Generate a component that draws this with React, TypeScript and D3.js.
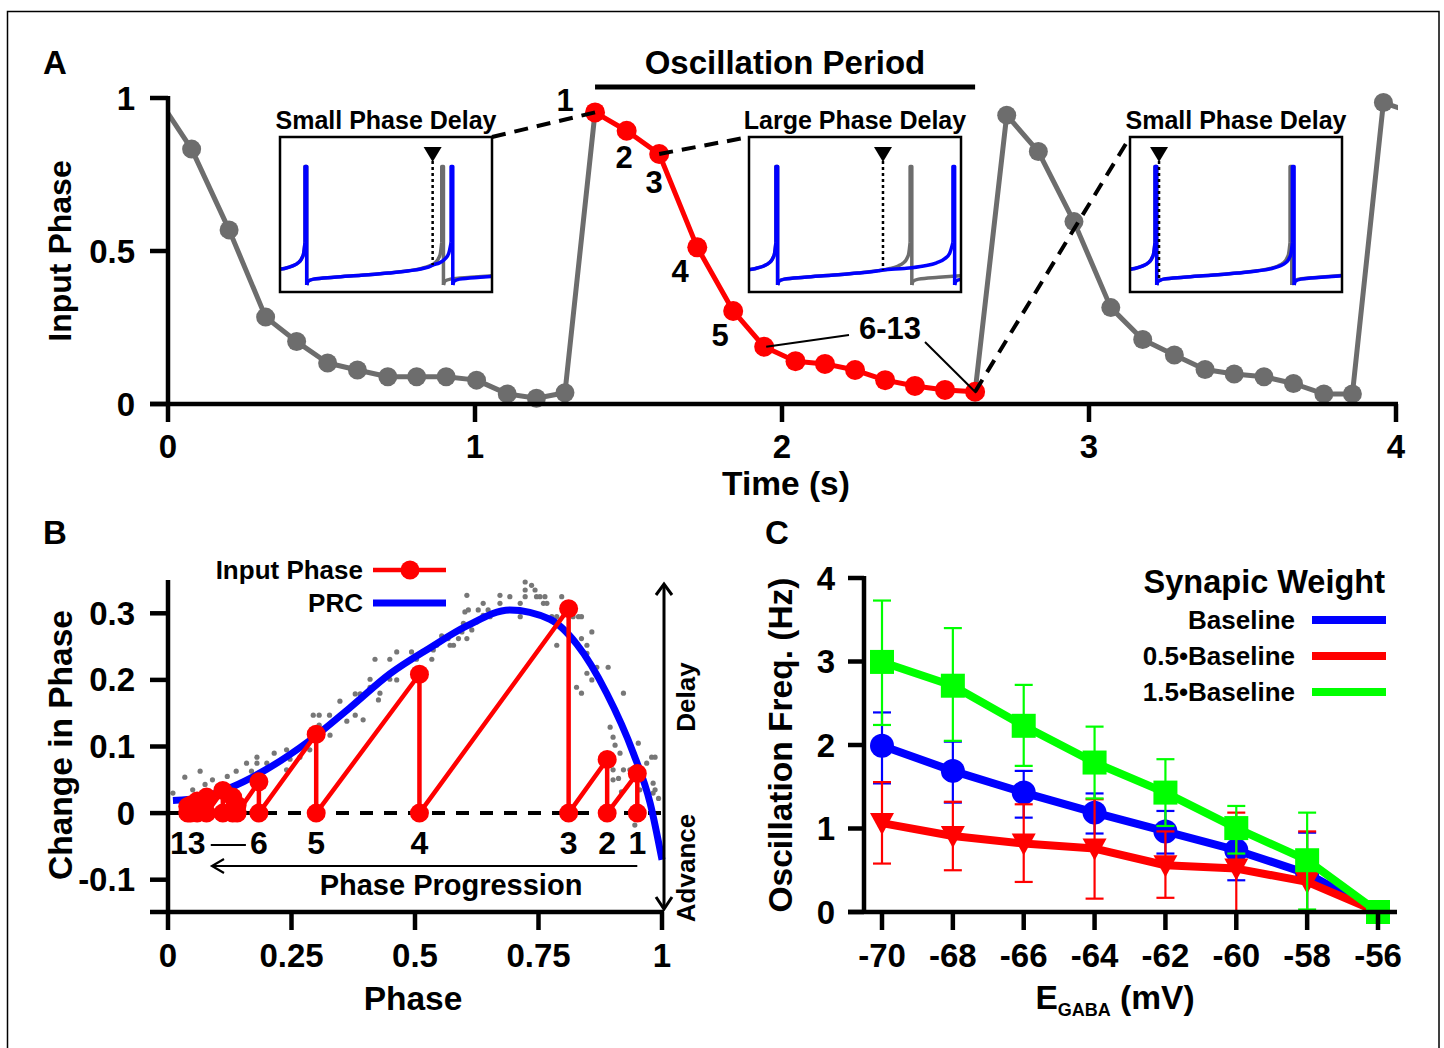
import React from "react";
import * as d3 from "d3";

// ---------------- Panel A data ----------------
const cycle1Time = [0, 0.077, 0.199, 0.318, 0.419, 0.52, 0.617, 0.716, 0.81, 0.906, 1.005, 1.105, 1.2, 1.293];
const cycle1Phase = [0.95, 0.833, 0.569, 0.284, 0.204, 0.134, 0.111, 0.089, 0.089, 0.089, 0.078, 0.033, 0.019, 0.037];
const inputTime = [1.391, 1.494, 1.6, 1.724, 1.841, 1.942, 2.044, 2.14, 2.238, 2.336, 2.433, 2.531, 2.629];
const inputPhase = [0.953, 0.893, 0.817, 0.512, 0.304, 0.187, 0.14, 0.131, 0.111, 0.078, 0.059, 0.046, 0.04];
const cycle3Time = [2.732, 2.835, 2.951, 3.071, 3.175, 3.278, 3.378, 3.473, 3.57, 3.666, 3.765, 3.858, 3.959, 4.06];
const cycle3Phase = [0.944, 0.825, 0.596, 0.315, 0.211, 0.16, 0.113, 0.098, 0.089, 0.067, 0.033, 0.033, 0.985, 0.95];
const timeTicks = [0, 1, 2, 3, 4];
const inputPhaseTicks = [0, 0.5, 1];
const inputPhaseTickLabels = ["0", "0.5", "1"];
const pointLabels = ["1", "2", "3", "4", "5"];

// inset traces (time & voltage normalised to the inset box)
const insetTitles = ["Small Phase Delay", "Large Phase Delay", "Small Phase Delay"];
const insetInput = [0.72, 0.632, 0.137];
const insetGraySpikes = [[0.118, 0.763], [0.127, 0.76], [0.118, 0.755]];
const insetBlueSpikes = [[0.118, 0.807], [0.127, 0.962], [0.118, 0.766]];
const insetPeriod = [0.645, 0.633, 0.637];
const rampF = [0, 0.01, 0.05, 0.2, 0.4, 0.6, 0.75, 0.85, 0.91, 0.95, 0.975, 0.99, 1];
const rampV = [0.045, 0.07, 0.083, 0.095, 0.108, 0.122, 0.137, 0.152, 0.168, 0.188, 0.215, 0.25, 0.32];
const spikePeak = 0.81;

// ---------------- Panel B data ----------------
const prcPhase = [0.01, 0.07, 0.132, 0.2, 0.287, 0.368, 0.449, 0.53, 0.605, 0.692, 0.773, 0.827, 0.888, 0.942, 0.976, 1.0];
const prcDelta = [0.019, 0.024, 0.04, 0.066, 0.109, 0.158, 0.209, 0.248, 0.281, 0.305, 0.291, 0.254, 0.18, 0.09, 0.015, -0.07];
const scatterPhase = [0.01, 0.02, 0.05, 0.09, 0.1, 0.12, 0.034, 0.065, 0.075, 0.138, 0.159, 0.18, 0.18, 0.2, 0.215, 0.24, 0.24, 0.169,
  0.294, 0.306, 0.327, 0.306, 0.328, 0.287, 0.267, 0.247, 0.348, 0.362, 0.379, 0.379, 0.389, 0.395, 0.409, 0.409, 0.426, 0.419,
  0.429, 0.449, 0.463, 0.463, 0.449, 0.503, 0.493, 0.537, 0.534, 0.544, 0.554, 0.571, 0.578, 0.567, 0.588, 0.595, 0.605, 0.601,
  0.608, 0.598, 0.605, 0.615, 0.625, 0.628, 0.638, 0.638, 0.648, 0.652, 0.672, 0.672, 0.692, 0.713, 0.713, 0.723, 0.723, 0.723,
  0.736, 0.743, 0.746, 0.753, 0.763, 0.76, 0.767, 0.777, 0.787, 0.787, 0.797, 0.807, 0.82, 0.831, 0.837, 0.837, 0.837, 0.848,
  0.858, 0.848, 0.851, 0.868, 0.891, 0.848, 0.858, 0.827, 0.837, 0.922, 0.895, 0.901, 0.905, 0.915, 0.952, 0.922, 0.935, 0.912,
  0.901, 0.901, 0.918, 0.979, 0.986, 0.969, 0.982, 0.986, 0.993, 0.945, 0.955, 0.982];
const scatterDelta = [0.03, 0.02, 0.035, 0.05, 0.04, 0.055, 0.054, 0.063, 0.043, 0.063, 0.075, 0.084, 0.075, 0.075, 0.09, 0.095, 0.065, 0.063,
  0.147, 0.147, 0.147, 0.132, 0.117, 0.095, 0.084, 0.081, 0.168, 0.138, 0.147, 0.179, 0.179, 0.14, 0.189, 0.201, 0.17, 0.231,
  0.18, 0.231, 0.242, 0.2, 0.201, 0.231, 0.242, 0.245, 0.231, 0.252, 0.266, 0.252, 0.252, 0.262, 0.262, 0.272, 0.327, 0.302,
  0.305, 0.285, 0.262, 0.275, 0.287, 0.305, 0.315, 0.297, 0.305, 0.295, 0.327, 0.315, 0.325, 0.315, 0.295, 0.347, 0.335, 0.325,
  0.342, 0.335, 0.325, 0.325, 0.325, 0.315, 0.315, 0.295, 0.295, 0.252, 0.325, 0.307, 0.295, 0.295, 0.295, 0.262, 0.245, 0.252,
  0.272, 0.24, 0.23, 0.219, 0.219, 0.21, 0.2, 0.189, 0.18, 0.18, 0.129, 0.114, 0.102, 0.09, 0.105, 0.065, 0.065, 0.052,
  0.065, 0.05, 0.032, 0.084, 0.084, 0.075, 0.045, 0.035, 0.022, -0.018, 0.035, 0.03];
const inputPhaseB = [0.95, 0.889, 0.811, 0.509, 0.3, 0.184, 0.14, 0.131, 0.111, 0.078, 0.059, 0.046, 0.04];
const deltaB = [0.0595, 0.0805, 0.307, 0.2085, 0.1185, 0.047, 0.012, 0.024, 0.034, 0.024, 0.018, 0.012, 0.01];
const phaseTicks = [0, 0.25, 0.5, 0.75, 1];
const phaseTickLabels = ["0", "0.25", "0.5", "0.75", "1"];
const deltaTicks = [-0.1, 0, 0.1, 0.2, 0.3];
const deltaTickLabels = ["-0.1", "0", "0.1", "0.2", "0.3"];
const labelledInputs = [0, 1, 2, 3, 4, 5, 12];

// ---------------- Panel C data ----------------
const eGaba = [-70, -68, -66, -64, -62, -60, -58, -56];
const freqBaseline = [1.99, 1.69, 1.43, 1.19, 0.965, 0.74, 0.46, 0];
const freqBaselineHi = [2.39, 2.04, 1.69, 1.42, 1.21, 1.1, 0.95, 0];
const freqBaselineLo = [1.54, 1.31, 1.13, 0.94, 0.7, 0.38, 0.0, 0];
const freqHalf = [1.065, 0.91, 0.82, 0.76, 0.56, 0.52, 0.36, 0];
const freqHalfHi = [1.556, 1.32, 1.29, 1.35, 0.965, 1.19, 0.965, 0];
const freqHalfLo = [0.58, 0.5, 0.36, 0.16, 0.17, 0.0, 0.0, 0];
const freqOnePointFive = [2.995, 2.71, 2.23, 1.79, 1.43, 1.005, 0.62, 0];
const freqOnePointFiveHi = [3.73, 3.4, 2.72, 2.22, 1.83, 1.27, 1.19, 0];
const freqOnePointFiveLo = [2.24, 2.05, 1.75, 1.36, 1.03, 0.7, 0.03, 0];
const freqTicks = [0, 1, 2, 3, 4];
const seriesNames = ["Baseline", "0.5\u2022Baseline", "1.5\u2022Baseline"];

const FONT = "'Liberation Sans', Arial, Helvetica, sans-serif";
const GRAY = "#6d6d6d";
const RED = "#ff0000";
const BLUE = "#0000ff";
const GREEN = "#00ff00";
const TICK_FS = 33;
const TITLE_FS = 33.5;

type Pt = [number, number];

function buildTrace(spikes: number[], input: number | null, P: number) {
  const vOf = d3.scaleLinear(rampF, rampV).clamp(true);
  const segs: { pts: Pt[]; smooth: boolean }[] = [];
  const w = 0.008;
  const s1 = spikes[0];
  const f0 = 1 - s1 / P;
  const pre: Pt[] = [[0, vOf(f0)]];
  rampF.forEach((f, i) => { if (f > f0) pre.push([s1 - (1 - f) * P, rampV[i]]); });
  segs.push({ pts: pre, smooth: true });
  let inputV = 0;
  spikes.forEach((s, k) => {
    segs.push({ pts: [[s, rampV[rampV.length - 1]], [s, spikePeak], [s + w, spikePeak], [s + w, rampV[0]]], smooth: false });
    const base = s + w;
    const next = spikes[k + 1];
    const seg: Pt[] = [];
    if (next !== undefined) {
      if (input !== null && input > base && input < next) {
        const fin = (input - base) / P;
        inputV = vOf(fin);
        rampF.forEach((f, i) => { if (f < fin) seg.push([base + f * P, rampV[i]]); });
        seg.push([input, vOf(fin)]);
        rampF.forEach((f, i) => { if (f > fin) seg.push([input + ((f - fin) / (1 - fin)) * (next - input), rampV[i]]); });
      } else {
        rampF.forEach((f, i) => seg.push([base + f * (next - base), rampV[i]]));
      }
    } else {
      rampF.forEach((f, i) => { const x = base + f * P; if (x <= 1) seg.push([x, rampV[i]]); });
      seg.push([1, vOf((1 - base) / P)]);
    }
    segs.push({ pts: seg, smooth: true });
  });
  return { segs, inputV };
}

function Inset({ idx, left, top }: { idx: number; left: number; top: number }) {
  const W = 212, H = 155;
  const xs = d3.scaleLinear([0, 1], [0, W]);
  const ys = d3.scaleLinear([0, 1], [H, 0]);
  const smooth = d3.line<Pt>().x(d => xs(d[0])).y(d => ys(d[1])).curve(d3.curveMonotoneX);
  const straight = d3.line<Pt>().x(d => xs(d[0])).y(d => ys(d[1]));
  const gray = buildTrace(insetGraySpikes[idx], null, insetPeriod[idx]);
  const blue = buildTrace(insetBlueSpikes[idx], insetInput[idx], insetPeriod[idx]);
  const ix = xs(insetInput[idx]);
  const clipId = `inset-clip-${idx}`;
  return (
    <g transform={`translate(${left},${top})`}>
      <text x={W / 2} y={-8} textAnchor="middle" fontSize={25} fontWeight="bold">{insetTitles[idx]}</text>
      <rect x={0} y={0} width={W} height={H} fill="#fff" />
      <clipPath id={clipId}><rect x={1} y={1} width={W - 2} height={H - 2} /></clipPath>
      <g clipPath={`url(#${clipId})`} fill="none" strokeLinejoin="round">
        {gray.segs.map((s, i) => (
          <path key={"g" + i} d={(s.smooth ? smooth : straight)(s.pts) || ""} stroke={GRAY} strokeWidth={3.5} />
        ))}
        {blue.segs.map((s, i) => (
          <path key={"b" + i} d={(s.smooth ? smooth : straight)(s.pts) || ""} stroke={BLUE} strokeWidth={3.5} />
        ))}
      </g>
      <line x1={ix} x2={ix} y1={24} y2={ys(blue.inputV)} stroke="#000" strokeWidth={2.5} strokeDasharray="3 3" />
      <path d={`M${ix - 9},${10} L${ix + 9},${10} L${ix},${25} Z`} fill="#000" />
      <rect x={0} y={0} width={W} height={H} fill="none" stroke="#000" strokeWidth={2.5} />
    </g>
  );
}

export default function App() {
  // ---------- Panel A ----------
  const xA = d3.scaleLinear([0, 4], [168, 1396]);
  const yA = d3.scaleLinear([0, 1], [404, 98]);
  const lineA = d3.line<Pt>().x(d => xA(d[0])).y(d => yA(d[1]));
  const gray1: Pt[] = cycle1Time.map((t, i) => [t, cycle1Phase[i]] as Pt).concat([[inputTime[0], inputPhase[0]]]);
  const redPts: Pt[] = inputTime.map((t, i) => [t, inputPhase[i]]);
  const gray3: Pt[] = ([[inputTime[12], inputPhase[12]]] as Pt[]).concat(cycle3Time.map((t, i) => [t, cycle3Phase[i]] as Pt));
  const insetLefts = [280, 749, 1130];
  const insetTop = 137;
  const p = (i: number): Pt => [xA(inputTime[i]), yA(inputPhase[i])];

  // ---------- Panel B ----------
  const xB = d3.scaleLinear([0, 1], [168, 662]);
  const yB = d3.scaleLinear([-0.15, 0.35], [913, 580]);
  const prcLine = d3.line<number>().x((_, i) => xB(prcPhase[i])).y((_, i) => yB(prcDelta[i])).curve(d3.curveMonotoneX);
  const cobweb: Pt[] = [];
  inputPhaseB.forEach((ph, i) => { cobweb.push([ph, 0]); cobweb.push([ph, deltaB[i]]); });
  const lineB = d3.line<Pt>().x(d => xB(d[0])).y(d => yB(d[1]));

  // ---------- Panel C ----------
  const xC = d3.scaleLinear([-70, -56], [882, 1378]);
  const yC = d3.scaleLinear([0, 4], [912, 578]);
  const series = [
    { name: seriesNames[0], color: BLUE, v: freqBaseline, hi: freqBaselineHi, lo: freqBaselineLo, shape: "circle" },
    { name: seriesNames[1], color: RED, v: freqHalf, hi: freqHalfHi, lo: freqHalfLo, shape: "tri" },
    { name: seriesNames[2], color: GREEN, v: freqOnePointFive, hi: freqOnePointFiveHi, lo: freqOnePointFiveLo, shape: "square" },
  ];
  const lineC = d3.line<number>().x((_, i) => xC(eGaba[i])).y(d => yC(d));

  return (
    <svg width={1444} height={1048} style={{ position: "absolute", left: 0, top: 0, background: "#fff" }} fontFamily={FONT}>
      <rect x={0} y={0} width={1444} height={1048} fill="#fff" />
      <rect x={7.5} y={11.5} width={1431.5} height={1100} fill="none" stroke="#000" strokeWidth={1.5} />

      {/* ================= Panel A ================= */}
      <text x={55} y={62} textAnchor="middle" dominantBaseline="central" fontSize={33} fontWeight="bold">A</text>
      <line x1={xA(inputTime[0])} x2={xA(inputTime[12])} y1={87} y2={87} stroke="#000" strokeWidth={5} />
      <text x={785} y={62} textAnchor="middle" dominantBaseline="central" fontSize={33} fontWeight="bold">Oscillation Period</text>

      {insetLefts.map((l, i) => <Inset key={i} idx={i} left={l} top={insetTop} />)}

      <clipPath id="clipA"><rect x={150} y={60} width={1248} height={360} /></clipPath>
      <g clipPath="url(#clipA)" fill="none" strokeLinejoin="round">
        <path d={lineA(gray1) || ""} stroke={GRAY} strokeWidth={5} />
        <path d={lineA(gray3) || ""} stroke={GRAY} strokeWidth={5} />
        {cycle1Time.slice(1).map((t, i) => (
          <circle key={"c1" + i} cx={xA(t)} cy={yA(cycle1Phase[i + 1])} r={9.5} fill={GRAY} />
        ))}
        {cycle3Time.map((t, i) => (t <= 4 ? <circle key={"c3" + i} cx={xA(t)} cy={yA(cycle3Phase[i])} r={9.5} fill={GRAY} /> : null))}
        <path d={lineA(redPts) || ""} stroke={RED} strokeWidth={5} />
        {redPts.map((d, i) => <circle key={"r" + i} cx={xA(d[0])} cy={yA(d[1])} r={10} fill={RED} />)}
      </g>

      {/* connectors */}
      <g stroke="#000" strokeWidth={4} strokeDasharray="14 9" fill="none">
        <line x1={insetLefts[0] + 212} y1={insetTop} x2={p(0)[0]} y2={p(0)[1]} />
        <line x1={p(2)[0]} y1={p(2)[1]} x2={insetLefts[1]} y2={insetTop} />
        <line x1={p(12)[0]} y1={p(12)[1]} x2={insetLefts[2]} y2={insetTop} />
      </g>
      <g stroke="#000" strokeWidth={2} fill="none">
        <line x1={p(5)[0] + 2} y1={p(5)[1]} x2={849} y2={335} />
        <line x1={925} y1={342} x2={p(12)[0] + 1} y2={p(12)[1] + 1} />
      </g>
      <g fontSize={31} fontWeight="bold" textAnchor="middle" dominantBaseline="central">
        <text x={565} y={100}>{pointLabels[0]}</text>
        <text x={624} y={157}>{pointLabels[1]}</text>
        <text x={654} y={182}>{pointLabels[2]}</text>
        <text x={680} y={271}>{pointLabels[3]}</text>
        <text x={720} y={335}>{pointLabels[4]}</text>
        <text x={890} y={328}>6-13</text>
      </g>

      {/* axes A */}
      <g stroke="#000" strokeWidth={4.5}>
        <line x1={168} x2={168} y1={96} y2={406} />
        <line x1={150} x2={1398} y1={404} y2={404} />
        {inputPhaseTicks.map(t => <line key={"ya" + t} x1={150} x2={168} y1={yA(t)} y2={yA(t)} />)}
        {timeTicks.map(t => <line key={"xa" + t} x1={xA(t)} x2={xA(t)} y1={404} y2={422} />)}
      </g>
      <g fontSize={TICK_FS} fontWeight="bold">
        {inputPhaseTicks.map((t, i) => (
          <text key={"yal" + t} x={135} y={yA(t)} textAnchor="end" dominantBaseline="central">{inputPhaseTickLabels[i]}</text>
        ))}
        {timeTicks.map(t => (
          <text key={"xal" + t} x={xA(t)} y={446} textAnchor="middle" dominantBaseline="central">{String(t)}</text>
        ))}
        <text x={786} y={483} textAnchor="middle" dominantBaseline="central" fontSize={TITLE_FS}>Time (s)</text>
        <text transform="translate(60,251) rotate(-90)" textAnchor="middle" dominantBaseline="central" fontSize={32}>Input Phase</text>
      </g>

      {/* ================= Panel B ================= */}
      <text x={55} y={532} textAnchor="middle" dominantBaseline="central" fontSize={33} fontWeight="bold">B</text>
      <g>
        {scatterPhase.map((ph, i) => (
          <circle key={"s" + i} cx={xB(ph)} cy={yB(scatterDelta[i])} r={2.6} fill="#777" />
        ))}
      </g>
      <line x1={168} x2={662} y1={yB(0)} y2={yB(0)} stroke="#000" strokeWidth={4} strokeDasharray="13 11" />
      <path d={prcLine(prcPhase) || ""} fill="none" stroke={BLUE} strokeWidth={7} />
      <path d={lineB(cobweb) || ""} fill="none" stroke={RED} strokeWidth={4.5} strokeLinejoin="round" />
      {cobweb.map((d, i) => <circle key={"cb" + i} cx={xB(d[0])} cy={yB(d[1])} r={9.5} fill={RED} />)}
      <g fontSize={32} fontWeight="bold" textAnchor="middle" dominantBaseline="central">
        {labelledInputs.map(k => (
          <text key={"bl" + k} x={xB(inputPhaseB[k])} y={843}>{String(k + 1)}</text>
        ))}
      </g>
      <line x1={xB(inputPhaseB[12]) + 23} x2={xB(inputPhaseB[5]) - 13} y1={845} y2={845} stroke="#000" strokeWidth={2} />
      <g stroke="#000" strokeWidth={2.2} fill="none">
        <line x1={xB(inputPhaseB[0])} x2={213} y1={866} y2={866} />
        <polyline points="224,859 212,866 224,873" />
      </g>
      <text x={451} y={885} textAnchor="middle" dominantBaseline="central" fontSize={29} fontWeight="bold">Phase Progression</text>
      <g stroke="#000" strokeWidth={3} fill="none">
        <line x1={664} x2={664} y1={585} y2={908} />
        <polyline points="656,595 664,584 672,595" />
        <polyline points="656,897 664,909 672,897" />
      </g>
      <text transform="translate(686,697) rotate(-90)" textAnchor="middle" dominantBaseline="central" fontSize={26} fontWeight="bold">Delay</text>
      <text transform="translate(686,868) rotate(-90)" textAnchor="middle" dominantBaseline="central" fontSize={26} fontWeight="bold">Advance</text>
      <g fontSize={26} fontWeight="bold">
        <text x={363} y={570} textAnchor="end" dominantBaseline="central">Input Phase</text>
        <line x1={373} x2={446} y1={570} y2={570} stroke={RED} strokeWidth={4.5} />
        <circle cx={410} cy={570} r={9.5} fill={RED} />
        <text x={363} y={603} textAnchor="end" dominantBaseline="central">PRC</text>
        <line x1={373} x2={446} y1={603} y2={603} stroke={BLUE} strokeWidth={7} />
      </g>
      <g stroke="#000" strokeWidth={4.5}>
        <line x1={168} x2={168} y1={580} y2={914} />
        <line x1={150} x2={664} y1={912} y2={912} />
        {deltaTicks.map(t => <line key={"yb" + t} x1={150} x2={168} y1={yB(t)} y2={yB(t)} />)}
        {phaseTicks.map(t => <line key={"xb" + t} x1={xB(t)} x2={xB(t)} y1={912} y2={930} />)}
      </g>
      <g fontSize={TICK_FS} fontWeight="bold">
        {deltaTicks.map((t, i) => (
          <text key={"ybl" + t} x={135} y={yB(t)} textAnchor="end" dominantBaseline="central">{deltaTickLabels[i]}</text>
        ))}
        {phaseTicks.map((t, i) => (
          <text key={"xbl" + t} x={xB(t)} y={955} textAnchor="middle" dominantBaseline="central">{phaseTickLabels[i]}</text>
        ))}
        <text x={413} y={998} textAnchor="middle" dominantBaseline="central" fontSize={TITLE_FS}>Phase</text>
        <text transform="translate(60,745) rotate(-90)" textAnchor="middle" dominantBaseline="central" fontSize={TITLE_FS}>Change in Phase</text>
      </g>

      {/* ================= Panel C ================= */}
      <text x={777} y={532} textAnchor="middle" dominantBaseline="central" fontSize={33} fontWeight="bold">C</text>
      {series.map(s => (
        <g key={s.name}>
          {eGaba.map((e, i) => (s.hi[i] > s.lo[i] ? (
            <g key={"eb" + i} stroke={s.color} strokeWidth={2.2}>
              <line x1={xC(e)} x2={xC(e)} y1={yC(s.hi[i])} y2={yC(s.lo[i])} />
              <line x1={xC(e) - 9} x2={xC(e) + 9} y1={yC(s.hi[i])} y2={yC(s.hi[i])} />
              <line x1={xC(e) - 9} x2={xC(e) + 9} y1={yC(s.lo[i])} y2={yC(s.lo[i])} />
            </g>
          ) : null))}
          <path d={lineC(s.v) || ""} fill="none" stroke={s.color} strokeWidth={8} strokeLinejoin="round" />
          {eGaba.map((e, i) => {
            const cx = xC(e), cy = yC(s.v[i]);
            if (s.shape === "circle") return <circle key={"m" + i} cx={cx} cy={cy} r={12} fill={s.color} />;
            if (s.shape === "square") return <rect key={"m" + i} x={cx - 12} y={cy - 12} width={24} height={24} fill={s.color} />;
            return <path key={"m" + i} d={`M${cx - 12},${cy - 10} L${cx + 12},${cy - 10} L${cx},${cy + 12} Z`} fill={s.color} />;
          })}
        </g>
      ))}
      <text x={1385} y={582} textAnchor="end" dominantBaseline="central" fontSize={32.5} fontWeight="bold">Synapic Weight</text>
      {series.map((s, i) => (
        <g key={"lg" + i}>
          <text x={1295} y={620 + i * 36} textAnchor="end" dominantBaseline="central" fontSize={26} fontWeight="bold">{s.name}</text>
          <line x1={1312} x2={1386} y1={620 + i * 36} y2={620 + i * 36} stroke={s.color} strokeWidth={8} />
        </g>
      ))}
      <g stroke="#000" strokeWidth={4.5}>
        <line x1={864} x2={864} y1={576} y2={914} />
        <line x1={848} x2={1397} y1={912} y2={912} />
        {freqTicks.map(t => <line key={"yc" + t} x1={848} x2={864} y1={yC(t)} y2={yC(t)} />)}
        {eGaba.map(e => <line key={"xc" + e} x1={xC(e)} x2={xC(e)} y1={912} y2={930} />)}
      </g>
      <g fontSize={TICK_FS} fontWeight="bold">
        {freqTicks.map(t => (
          <text key={"ycl" + t} x={835} y={yC(t)} textAnchor="end" dominantBaseline="central">{String(t)}</text>
        ))}
        {eGaba.map(e => (
          <text key={"xcl" + e} x={xC(e)} y={955} textAnchor="middle" dominantBaseline="central">{String(e)}</text>
        ))}
        <text transform="translate(780,745) rotate(-90)" textAnchor="middle" dominantBaseline="central" fontSize={TITLE_FS}>Oscillation Freq. (Hz)</text>
        <text x={1115} y={1009} textAnchor="middle" fontSize={TITLE_FS}>
          <tspan>E</tspan>
          <tspan fontSize={18} dy={7}>GABA</tspan>
          <tspan dy={-7}> (mV)</tspan>
        </text>
      </g>
    </svg>
  );
}
